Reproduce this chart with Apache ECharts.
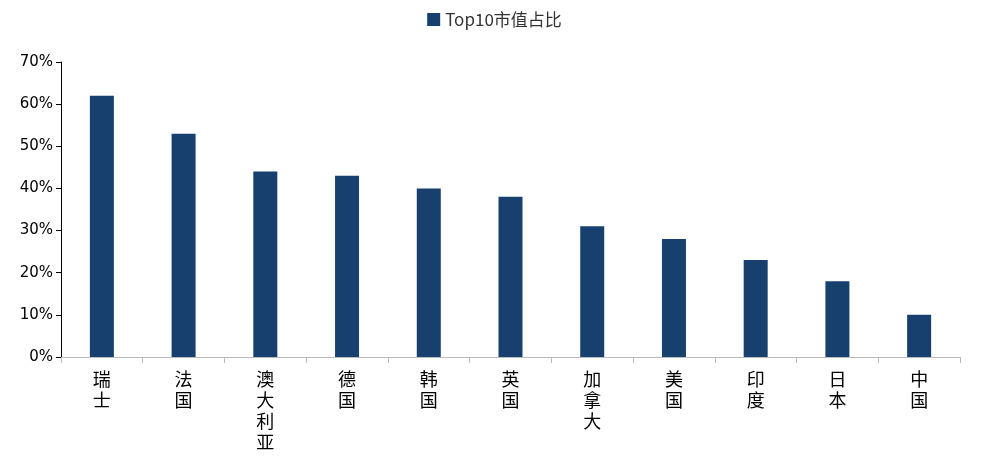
<!DOCTYPE html>
<html><head><meta charset="utf-8">
<script src="https://cdn.jsdelivr.net/npm/echarts@6/dist/echarts.min.js"></script>
<style>html,body{margin:0;padding:0;background:#fff}#c{width:989px;height:465px}</style>
</head><body><div id="c"></div>
<script>
const categories = ['瑞士','法国','澳大利亚','德国','韩国','英国','加拿大','美国','印度','日本','中国'];
const values = [62,53,44,43,40,38,31,28,23,18,10];
const seriesName = 'Top10市值占比';
const chart = echarts.init(document.getElementById('c'));
chart.setOption({
  animation:false,
  legend:{top:6,left:'center',itemWidth:13,itemHeight:13,icon:'rect',
    textStyle:{fontSize:17,color:'#333',fontFamily:'Noto Sans CJK SC'}},
  grid:{left:61,right:29,top:62,bottom:108},
  xAxis:{type:'category',data:categories,
    axisLine:{lineStyle:{color:'#bbb'}},
    axisTick:{show:true,length:6,lineStyle:{color:'#bbb'}},
    axisLabel:{fontSize:18,color:'#000',lineHeight:21,margin:12,fontFamily:'Noto Sans CJK SC',
      formatter:v=>v.split('').join('\n')}},
  yAxis:{type:'value',min:0,max:70,interval:10,
    axisLine:{show:true,lineStyle:{color:'#000'}},
    axisTick:{show:true,length:5,lineStyle:{color:'#000'}},
    splitLine:{show:false},
    axisLabel:{fontSize:15,color:'#000',formatter:'{value}%',fontFamily:'DejaVu Sans'}},
  series:[{name:seriesName,type:'bar',data:values,barWidth:24,itemStyle:{color:'#17406f'}}]
});
</script></body></html>
